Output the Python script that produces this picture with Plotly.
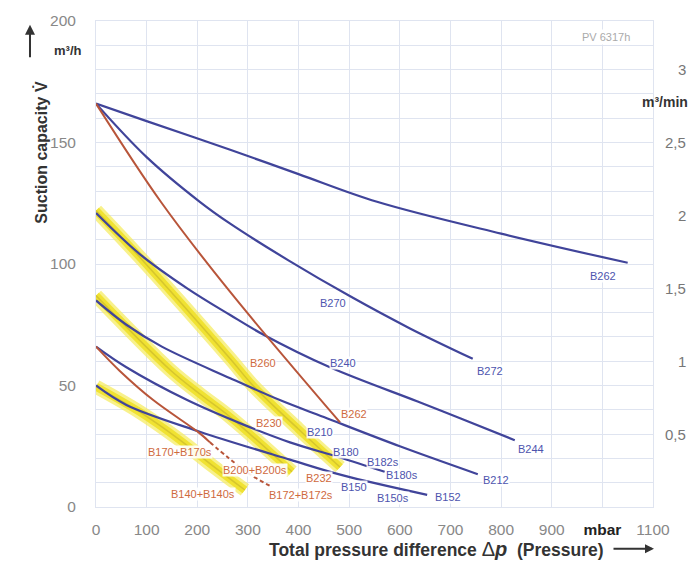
import plotly.graph_objects as go

# ---------------- data ----------------
x_ticks = [0, 100, 200, 300, 400, 500, 600, 700, 800, 900, 1000, 1100]
x_ticktext = ["0", "100", "200", "300", "400", "500", "600", "700", "800", "900",
              "<b><span style='color:#222'>mbar</span></b>", "1100"]
y_ticks = [0, 50, 100, 150, 200]
right_vals = [0.5, 1, 1.5, 2, 2.5, 3]          # m³/min
right_text = ["0,5", "1", "1,5", "2", "2,5", "3"]

# blue curves
p_B262 = [0, 100, 265, 400, 555, 800, 1050]
v_B262 = [166, 158.8, 147, 137, 125.6, 112.5, 100.5]
p_B272 = [0, 100, 205, 265, 380, 502, 620, 744]
v_B272 = [166, 144, 125.6, 116.6, 101.5, 86.7, 73.5, 61]
p_B244 = [0, 87, 180, 265, 330, 462, 634, 719, 827]
v_B244 = [121, 104, 90, 79, 71, 57.5, 43.5, 36.5, 27.5]
p_B212 = [0, 60, 130, 265, 363, 450, 600, 754]
v_B212 = [85, 75, 66, 53, 44, 37, 25, 13.5]
p_B182 = [0, 60, 180, 290, 383, 480, 570]
v_B182 = [66, 57.5, 44, 34, 26.6, 20.5, 14.5]
p_B152 = [0, 60, 205, 383, 488, 654]
v_B152 = [50, 42, 31, 19.5, 13, 5]

# red curves
p_B262r = [0, 128, 265, 482]
v_B262r = [166, 125.6, 88.5, 34.8]
p_B170 = [0, 47, 113, 205, 225]
v_B170 = [66, 56, 44, 30.3, 26.6]
p_B172 = [225, 260, 300, 345]
v_B172 = [26.6, 20.5, 14, 8.5]

# yellow highlighted curves
p_Y232 = [0, 90, 265, 310, 400, 482]
v_Y232 = [122, 102, 61, 50, 32, 16.4]
p_Y200 = [0, 146, 205, 265, 387]
v_Y200 = [87, 56.5, 46.5, 37, 14.5]
p_Y140 = [0, 87, 166, 230, 294]
v_Y140 = [49.5, 39, 27.5, 17, 7]

# curve labels
blue_labels = ["B262", "B272", "B270", "B240", "B244", "B210", "B212", "B180",
               "B182s", "B180s", "B150", "B150s", "B152"]
blue_lab_p = [1001, 778, 468, 488, 859, 442, 790, 494, 567, 604, 509, 586, 695]
blue_lab_v = [94.9, 56, 83.8, 59.3, 23.7, 30.7, 11, 22.5, 18.4, 13.1, 8.2, 3.7, 4.1]
red_labels = ["B260", "B262", "B230", "B232", "B200+B200s", "B170+B170s",
              "B172+B172s", "B140+B140s"]
red_lab_p = [330, 509, 342, 440, 314, 166, 405, 211]
red_lab_v = [59.3, 38.4, 34.4, 11.9, 15.1, 22.5, 4.9, 5.3]

# ---------------- styling ----------------
BLUE = "#40449a"
RED = "#b8553a"
BLUE_TXT = "#4d54ae"
RED_TXT = "#cf6a3e"
GRID = "#dfe4f0"
FONT = "Liberation Sans, Arial, sans-serif"

fig = go.Figure()

for px_, vy in [(p_Y232, v_Y232), (p_Y200, v_Y200), (p_Y140, v_Y140)]:
    fig.add_trace(go.Scatter(x=px_, y=vy, mode="lines", line=dict(color="rgba(245,235,90,0.7)", width=14, shape="spline"),
                             hoverinfo="skip", showlegend=False))
    fig.add_trace(go.Scatter(x=px_, y=vy, mode="lines", line=dict(color="#f0e232", width=8, shape="spline"),
                             hoverinfo="skip", showlegend=False))
    fig.add_trace(go.Scatter(x=px_, y=vy, mode="lines", line=dict(color="rgba(190,170,40,0.5)", width=1.5, shape="spline"),
                             hoverinfo="skip", showlegend=False))

for px_, vy in [(p_B262, v_B262), (p_B272, v_B272), (p_B244, v_B244),
                (p_B212, v_B212), (p_B182, v_B182), (p_B152, v_B152)]:
    fig.add_trace(go.Scatter(x=px_, y=vy, mode="lines", line=dict(color=BLUE, width=2.2, shape="spline"),
                             hoverinfo="skip", showlegend=False))

fig.add_trace(go.Scatter(x=p_B262r, y=v_B262r, mode="lines", line=dict(color=RED, width=2, shape="spline"),
                         hoverinfo="skip", showlegend=False))
fig.add_trace(go.Scatter(x=p_B170, y=v_B170, mode="lines", line=dict(color=RED, width=2, shape="spline"),
                         hoverinfo="skip", showlegend=False))
fig.add_trace(go.Scatter(x=p_B172, y=v_B172, mode="lines", line=dict(color=RED, width=2, dash="4px,3px", shape="spline"),
                         hoverinfo="skip", showlegend=False))

annotations = []
for t, x, y in zip(blue_labels, blue_lab_p, blue_lab_v):
    annotations.append(dict(x=x, y=y, xref="x", yref="y", text=t, showarrow=False,
                            font=dict(family=FONT, size=11, color=BLUE_TXT),
                            bgcolor="rgba(255,255,255,0.9)", borderpad=0))
for t, x, y in zip(red_labels, red_lab_p, red_lab_v):
    annotations.append(dict(x=x, y=y, xref="x", yref="y", text=t, showarrow=False,
                            font=dict(family=FONT, size=11, color=RED_TXT),
                            bgcolor="rgba(255,255,255,0.9)", borderpad=0))

# right-hand m³/min scale
for v, t in zip(right_vals, right_text):
    annotations.append(dict(x=1.0628, y=v * 60, xref="paper", yref="y", text=t, showarrow=False,
                            xanchor="right", font=dict(family=FONT, size=15, color="#777")))
annotations.append(dict(x=1.0664, y=166.5, xref="paper", yref="y", text="<b>m³/min</b>", showarrow=False,
                        xanchor="right", font=dict(family=FONT, size=14, color="#333")))
annotations.append(dict(x=-0.0503, y=188, xref="paper", yref="y", text="<b>m³/h</b>", showarrow=False,
                        xanchor="center", font=dict(family=FONT, size=13, color="#333")))
annotations.append(dict(x=0.9156, y=193.5, xref="paper", yref="y", text="PV 6317h", showarrow=False,
                        xanchor="center", font=dict(family=FONT, size=11, color="#aaa"),
                        bgcolor="white"))

# axis titles
annotations.append(dict(x=-0.1185, y=146, xref="paper", yref="y", text="<b>Suction capacity V̇</b>",
                        textangle=-90, showarrow=False, font=dict(family=FONT, size=16, color="#333")))
annotations.append(dict(x=-0.1185, y=198.5, xref="paper", yref="y", text="", showarrow=True,
                        ax=0, ay=34, arrowhead=2, arrowsize=1, arrowwidth=2, arrowcolor="#333"))
annotations.append(dict(x=0.9156, y=-0.0859, xref="paper", yref="paper", xanchor="right", yanchor="middle",
                        text="<b>Total pressure difference </b><span style='font-size:20px'>Δ<b><i>p</i></b></span><b>  (Pressure)</b>",
                        showarrow=False, font=dict(family=FONT, size=17.5, color="#333")))
annotations.append(dict(x=1.0018, y=-0.0859, xref="paper", yref="paper", text="", showarrow=True,
                        ax=-42, ay=0, arrowhead=2, arrowsize=1, arrowwidth=1.8, arrowcolor="#333"))

fig.update_layout(
    width=690, height=585,
    margin=dict(l=96, r=37, t=18, b=78),
    paper_bgcolor="white", plot_bgcolor="white",
    font=dict(family=FONT),
    annotations=annotations,
    xaxis=dict(range=[0, 1100], tickvals=x_ticks, ticktext=x_ticktext, showgrid=True, gridcolor=GRID,
               gridwidth=1, zeroline=False, showline=True, linecolor=GRID, mirror=True, ticks="",
               tickfont=dict(family=FONT, size=15.5, color="#888"), ticklabelstandoff=8),
    yaxis=dict(range=[0, 200], tickvals=y_ticks, showgrid=True, gridcolor=GRID, zeroline=False,
               showline=True, linecolor=GRID, mirror=True, ticks="",
               tickfont=dict(family=FONT, size=15.5, color="#888"), ticklabelstandoff=16,
               minor=dict(dtick=10, showgrid=True, gridcolor=GRID, gridwidth=1)),
)

fig.write_html("out.html", config={"displayModeBar": False},
               post_script="document.body.style.margin='0';document.body.style.padding='0';")
